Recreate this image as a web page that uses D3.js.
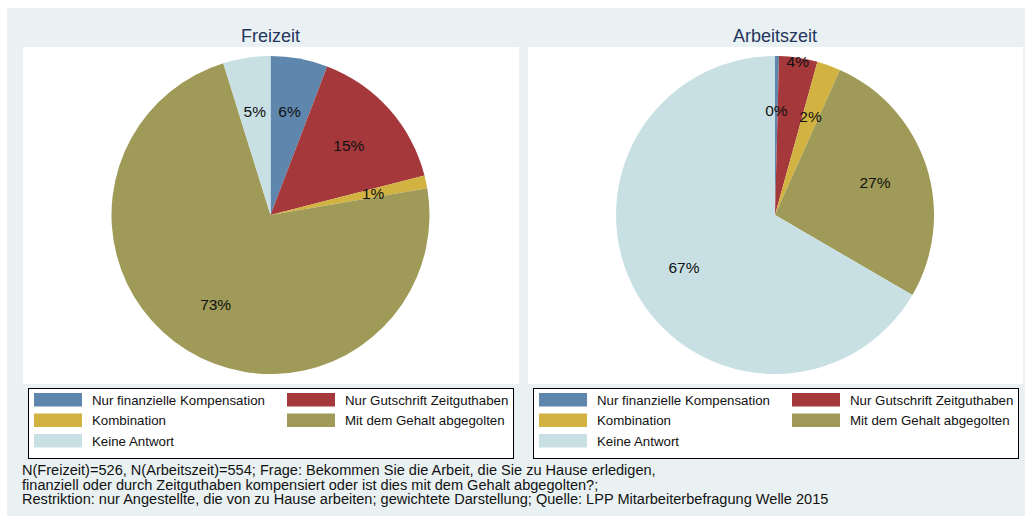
<!DOCTYPE html>
<html>
<head>
<meta charset="utf-8">
<script src="https://cdn.jsdelivr.net/npm/d3@7"></script>
<style>
  html, body { margin: 0; padding: 0; background: #ffffff; }
  svg { display: block; font-family: "Liberation Sans", Arial, sans-serif; }
</style>
</head>
<body>
<svg id="chart" width="1026" height="516"></svg>
<script>
// ---- data ----
const categories = ["Nur finanzielle Kompensation", "Nur Gutschrift Zeitguthaben", "Kombination", "Mit dem Gehalt abgegolten", "Keine Antwort"];
const panelTitles = ["Freizeit", "Arbeitszeit"];
const freizeitValues = [5.8, 15.2, 1.3, 72.9, 4.8];
const arbeitszeitValues = [0.4, 3.9, 2.4, 26.7, 66.6];
const colors = ["#5f86ad", "#a5383b", "#d2b341", "#9f9a57", "#c8e0e4"];
const footnoteLines = [
  "N(Freizeit)=526, N(Arbeitszeit)=554; Frage: Bekommen Sie die Arbeit, die Sie zu Hause erledigen,",
  "finanziell oder durch Zeitguthaben kompensiert oder ist dies mit dem Gehalt abgegolten?;",
  "Restriktion: nur Angestellte, die von zu Hause arbeiten; gewichtete Darstellung; Quelle: LPP Mitarbeiterbefragung Welle 2015"
];

const svg = d3.select("#chart");
const W = 1026, H = 516;

// outer background
svg.append("rect").attr("x", 0).attr("y", 0).attr("width", W).attr("height", H).attr("fill", "#ffffff");
svg.append("rect").attr("x", 7).attr("y", 8).attr("width", 1018).attr("height", H - 8).attr("fill", "#eaf1f3");

const panels = [
  { title: panelTitles[0], values: freizeitValues, x: 23, w: 496, lx: 28, lw: 485 },
  { title: panelTitles[1], values: arbeitszeitValues, x: 528, w: 495, lx: 533, lw: 485 }
];
const plotTop = 47, plotH = 337;
const R = 159;

const colorScale = d3.scaleOrdinal().domain(categories).range(colors);
const pie = d3.pie().sort(null).value(d => d.value);
const arc = d3.arc().innerRadius(0).outerRadius(R);

panels.forEach(p => {
  const g = svg.append("g");
  // plot area
  g.append("rect").attr("x", p.x).attr("y", plotTop).attr("width", p.w).attr("height", plotH).attr("fill", "#ffffff");
  const cx = p.x + p.w / 2 - 0.5;
  const cy = plotTop + 168;

  // title
  g.append("text").attr("x", cx).attr("y", 42).attr("text-anchor", "middle")
    .attr("font-size", 18).attr("fill", "#24365c").text(p.title);

  const data = categories.map((c, i) => ({ cat: c, value: p.values[i] }));
  const arcs = pie(data);
  const pg = g.append("g").attr("transform", `translate(${cx},${cy})`);
  pg.selectAll("path").data(arcs).join("path")
    .attr("d", arc)
    .attr("fill", d => colorScale(d.data.cat));

  // labels with simple collision avoidance
  const placed = [];
  arcs.forEach(a => {
    const mid = (a.startAngle + a.endAngle) / 2;
    const txt = Math.round(a.data.value) + "%";
    let r = 105;
    const t = pg.append("text").attr("font-size", 15.5).attr("fill", "#111")
      .attr("text-anchor", "middle").attr("dominant-baseline", "central").text(txt);
    const tw = t.node().getComputedTextLength();
    const th = 14;
    const pos = rr => ({ x: Math.sin(mid) * rr, y: -Math.cos(mid) * rr });
    let q = pos(r);
    const overlaps = qq => placed.some(b => Math.abs(b.x - qq.x) < (b.w + tw) / 2 && Math.abs(b.y - qq.y) < (b.h + th) / 2);
    if (overlaps(q)) { r = R * 0.975; q = pos(r); }
    t.attr("x", q.x).attr("y", q.y);
    placed.push({ x: q.x, y: q.y, w: tw, h: th });
  });

  // legend
  const lg = g.append("g");
  lg.append("rect").attr("x", p.lx + 0.5).attr("y", 388.5).attr("width", p.lw).attr("height", 70)
    .attr("fill", "#ffffff").attr("stroke", "#000").attr("stroke-width", 1);
  categories.forEach((c, i) => {
    const col = i % 2, row = Math.floor(i / 2);
    const sx = p.lx + 6 + col * 253;
    const sy = 393 + row * 20.5;
    lg.append("rect").attr("x", sx).attr("y", sy).attr("width", 48).attr("height", 13.5).attr("fill", colorScale(c));
    lg.append("text").attr("x", sx + 58).attr("y", sy + 11.5).attr("font-size", 13.3).attr("fill", "#111").text(c);
  });
});

// footnote
footnoteLines.forEach((line, i) => {
  const t = svg.append("text").attr("x", 22).attr("y", 475 + i * 14.5).attr("font-size", 14).attr("fill", "#111").text(line);
  const len = t.node().getComputedTextLength();
  t.attr("textLength", len * 1.04).attr("lengthAdjust", "spacingAndGlyphs");
});
</script>
</body>
</html>
